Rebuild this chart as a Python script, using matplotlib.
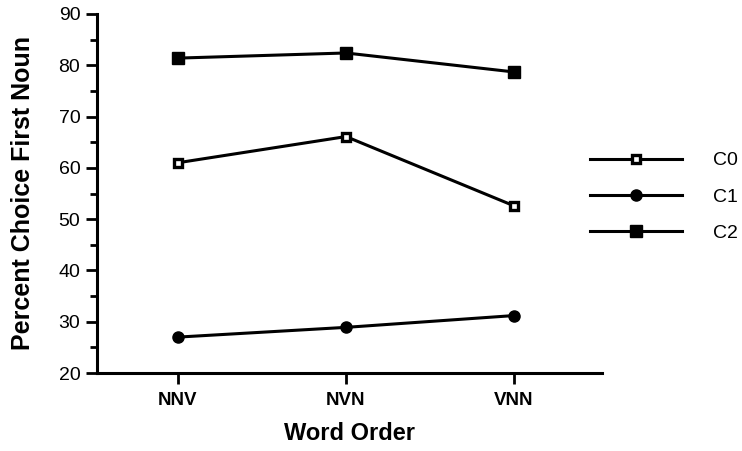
import matplotlib
matplotlib.use("Agg")
import matplotlib.pyplot as plt
from matplotlib.ticker import MultipleLocator

word_orders = ["NNV", "NVN", "VNN"]
c0 = [61.0, 66.1, 52.6]
c1 = [27.0, 28.9, 31.2]
c2 = [81.4, 82.4, 78.7]
series_names = ["C0", "C1", "C2"]

plt.rcParams['font.family'] = ['Liberation Sans', 'DejaVu Sans']

W, H = 742, 451
fig = plt.figure(figsize=(W/100, H/100), dpi=100)
ax = fig.add_axes([97/W, 1-373/H, (602-97)/W, (373-14)/H])

x = list(range(len(word_orders)))
lw = 2.2
ax.plot(x, c0, color='black', lw=lw, marker='s', ms=6, mfc='white', mec='black', mew=2.4, label=series_names[0])
ax.plot(x, c1, color='black', lw=lw, marker='o', ms=8, mfc='black', mec='black', label=series_names[1])
ax.plot(x, c2, color='black', lw=lw, marker='s', ms=8.5, mfc='black', mec='black', label=series_names[2])

ax.set_xlim(-0.482, 2.524)
ax.set_ylim(20, 90)
ax.set_xticks(x)
ax.set_xticklabels(word_orders, fontsize=13.5, fontweight='bold')
ax.yaxis.set_major_locator(MultipleLocator(10))
ax.yaxis.set_minor_locator(MultipleLocator(5))
ax.tick_params(axis='y', which='major', length=8, width=2, labelsize=14, pad=4, direction='out')
ax.tick_params(axis='y', which='minor', length=5, width=2, direction='out')
ax.tick_params(axis='x', which='major', length=8, width=2, pad=6, direction='out')

for s in ['top', 'right']:
    ax.spines[s].set_visible(False)
for s in ['left', 'bottom']:
    ax.spines[s].set_linewidth(2.2)

ax.set_ylabel("Percent Choice First Noun", fontsize=18, fontweight='bold', labelpad=17)
ax.set_xlabel("Word Order", fontsize=17, fontweight='bold', labelpad=9)

leg = ax.legend(loc='center left', bbox_to_anchor=(572/W, 1-197/H), bbox_transform=fig.transFigure,
                frameon=False, fontsize=14, handlelength=4.78, handletextpad=1.55, labelspacing=0.97)

fig.savefig("out.png", dpi=100)
